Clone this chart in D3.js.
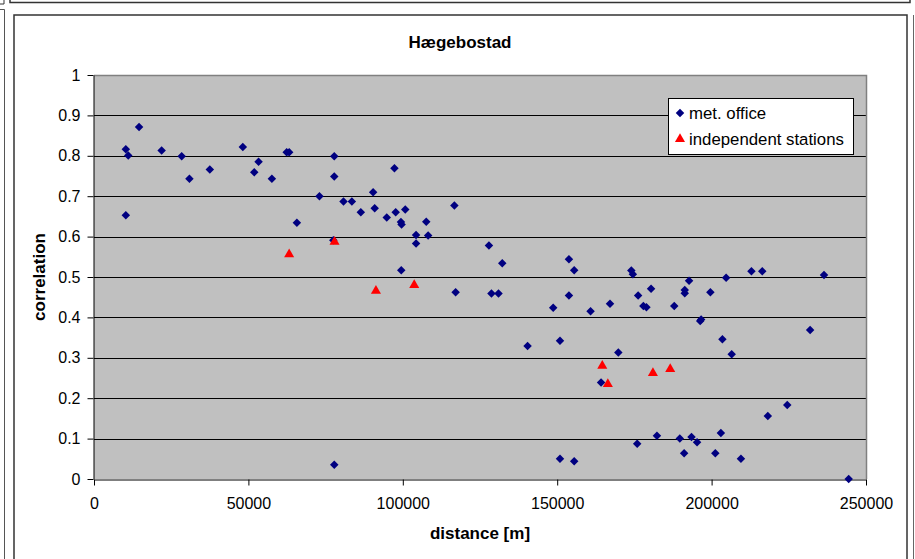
<!DOCTYPE html>
<html>
<head>
<meta charset="utf-8">
<script src="https://cdn.jsdelivr.net/npm/d3@7"></script>
<style>
  html, body { margin: 0; padding: 0; background: #fff; }
  svg { display: block; font-family: "Liberation Sans", Arial, sans-serif; }
</style>
</head>
<body>
<svg id="chart" width="915" height="559"></svg>
<script>
// Correlation vs. station distance, Hægebostad
const metDistance = [
  10300, 11100, 10300, 14600, 21900, 28400, 30900, 37500, 48200, 51900,
  53300, 57600, 62400, 63200, 65700, 73000, 77800, 77800, 77500, 77800,
  80800, 83500, 86400, 90400, 90900, 94800, 97300, 97700, 99400, 99600,
  99500, 100800, 104300, 104300, 107600, 108200, 116700, 117100, 127900, 128700,
  131000, 132200, 140400, 148700, 150900, 150900, 153800, 153800, 155500, 155500,
  160800, 164200, 167100, 169800, 174000, 174500, 175900, 176200, 177900, 178900,
  180400, 182300, 187900, 189700, 191100, 191300, 191300, 192700, 193500, 195300,
  196300, 196600, 199600, 201200, 203000, 203500, 204700, 206500, 209500, 212900,
  216400, 218200, 224500, 231900, 236400, 244400
];
const metCorrelation = [
  0.816, 0.801, 0.653, 0.871, 0.813, 0.799, 0.743, 0.766, 0.822, 0.759,
  0.785, 0.743, 0.809, 0.809, 0.634, 0.700, 0.799, 0.749, 0.591, 0.035,
  0.687, 0.687, 0.660, 0.710, 0.670, 0.647, 0.769, 0.660, 0.636, 0.630,
  0.517, 0.667, 0.604, 0.583, 0.637, 0.603, 0.677, 0.462, 0.578, 0.459,
  0.459, 0.534, 0.329, 0.424, 0.342, 0.050, 0.544, 0.454, 0.517, 0.044,
  0.415, 0.239, 0.434, 0.313, 0.516, 0.507, 0.087, 0.454, 0.428, 0.425,
  0.471, 0.107, 0.428, 0.100, 0.064, 0.468, 0.460, 0.491, 0.104, 0.091,
  0.391, 0.395, 0.462, 0.064, 0.114, 0.346, 0.498, 0.309, 0.050, 0.514,
  0.514, 0.156, 0.183, 0.369, 0.505, 0.000
];
const indDistance = [63200, 77900, 91300, 103700, 164600, 166400, 181000, 186600];
const indCorrelation = [0.556, 0.587, 0.466, 0.480, 0.280, 0.235, 0.262, 0.272];

const xTicks = [0, 50000, 100000, 150000, 200000, 250000];
const xTickLabels = ["0", "50000", "100000", "150000", "200000", "250000"];
const yTicks = [0, 0.1, 0.2, 0.3, 0.4, 0.5, 0.6, 0.7, 0.8, 0.9, 1];
const yTickLabels = ["0", "0.1", "0.2", "0.3", "0.4", "0.5", "0.6", "0.7", "0.8", "0.9", "1"];

const seriesNames = ["met. office", "independent stations"];

const svg = d3.select("#chart");

// surrounding sheet frames
const deco = svg.append("g").attr("fill", "none");
deco.append("path").attr("d", "M10,0V2.5H910V0").attr("stroke", "#333").attr("stroke-width", 1.5);
deco.append("path").attr("d", "M0,4H4V0").attr("stroke", "#333").attr("stroke-width", 1);
deco.append("path").attr("d", "M0,9.5H4.5V559").attr("stroke", "#555").attr("stroke-width", 1);
deco.append("path").attr("d", "M913.5,15V559").attr("stroke", "#666").attr("stroke-width", 1);
deco.append("rect").attr("x", 14).attr("y", 15).attr("width", 893).attr("height", 560)
  .attr("fill", "#fff").attr("stroke", "#333").attr("stroke-width", 1.5);

const plot = { left: 94, right: 866, top: 75, bottom: 479 };

const x = d3.scaleLinear().domain([0, 250000]).range([plot.left, plot.right]);
const y = d3.scaleLinear().domain([0, 1]).range([plot.bottom, plot.top]);

// plot background
svg.append("rect")
  .attr("x", plot.left).attr("y", plot.top)
  .attr("width", plot.right - plot.left).attr("height", plot.bottom - plot.top)
  .attr("fill", "#c0c0c0");

// horizontal gridlines
svg.append("g")
  .selectAll("line")
  .data(yTicks.filter(v => v > 0 && v < 1))
  .join("line")
  .attr("x1", plot.left).attr("x2", plot.right)
  .attr("y1", d => Math.round(y(d)) + 0.5).attr("y2", d => Math.round(y(d)) + 0.5)
  .attr("stroke", "#000").attr("stroke-width", 1);

// plot border (top and right)
svg.append("path")
  .attr("d", `M${plot.left},${plot.top + 0.5}H${plot.right + 0.5}V${plot.bottom}`)
  .attr("fill", "none").attr("stroke", "#808080").attr("stroke-width", 1.5);

// axes
const xAxis = d3.axisBottom(x)
  .tickValues(xTicks)
  .tickFormat((d, i) => xTickLabels[i])
  .tickSizeInner(6).tickSizeOuter(0).tickPadding(12);
const gx = svg.append("g")
  .attr("transform", `translate(0,${plot.bottom + 0.5})`)
  .call(xAxis);

const yAxis = d3.axisLeft(y)
  .tickValues(yTicks)
  .tickFormat((d, i) => yTickLabels[i])
  .tickSizeInner(6).tickSizeOuter(0).tickPadding(7);
const gy = svg.append("g")
  .attr("transform", `translate(${plot.left - 0.5},0)`)
  .call(yAxis);

[gx, gy].forEach(g => {
  g.select(".domain").attr("stroke", "#000").attr("stroke-width", 1);
  g.selectAll(".tick line").attr("stroke", "#000");
  g.selectAll(".tick text")
    .attr("fill", "#000")
    .style("font-family", '"Liberation Sans", Arial, sans-serif')
    .style("font-size", "16px");
});

// markers
const diamond = d3.symbol().type(d3.symbolDiamond2).size(46);
const triangle = d3.symbol().type(d3.symbolTriangle).size(44);

const metPoints = metDistance.map((d, i) => ({ d, c: metCorrelation[i] }));
const indPoints = indDistance.map((d, i) => ({ d, c: indCorrelation[i] }));

svg.append("g")
  .selectAll("path")
  .data(metPoints)
  .join("path")
  .attr("d", diamond)
  .attr("transform", p => `translate(${x(p.d)},${y(p.c)})`)
  .attr("fill", "#000080");

svg.append("g")
  .selectAll("path")
  .data(indPoints)
  .join("path")
  .attr("d", triangle)
  .attr("transform", p => `translate(${x(p.d)},${y(p.c)})`)
  .attr("fill", "#ff0000");

// titles
svg.append("text")
  .attr("x", 460).attr("y", 48)
  .attr("text-anchor", "middle")
  .style("font-size", "17px").style("font-weight", "bold")
  .text("Hægebostad");

svg.append("text")
  .attr("x", (plot.left + plot.right) / 2).attr("y", 539)
  .attr("text-anchor", "middle")
  .style("font-size", "17px").style("font-weight", "bold")
  .text("distance [m]");

svg.append("text")
  .attr("transform", `translate(45,${(plot.top + plot.bottom) / 2}) rotate(-90)`)
  .attr("text-anchor", "middle")
  .style("font-size", "17px").style("font-weight", "bold")
  .text("correlation");

// legend
const legend = svg.append("g").attr("transform", "translate(668,98)");
legend.append("rect")
  .attr("x", 0.5).attr("y", 0.5).attr("width", 185).attr("height", 56)
  .attr("fill", "#fff").attr("stroke", "#000").attr("stroke-width", 1);
const shapes = [diamond, triangle];
const colors = ["#000080", "#ff0000"];
seriesNames.forEach((name, i) => {
  const cy = 15 + i * 26;
  legend.append("path")
    .attr("d", shapes[i])
    .attr("transform", `translate(12,${cy})`)
    .attr("fill", colors[i]);
  legend.append("text")
    .attr("x", 21).attr("y", cy + 6)
    .style("font-size", "16.8px")
    .text(name);
});
</script>
</body>
</html>
